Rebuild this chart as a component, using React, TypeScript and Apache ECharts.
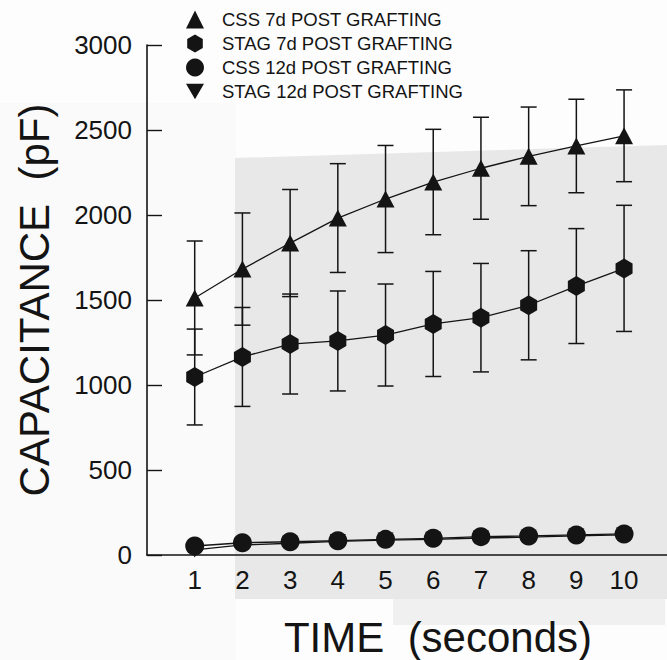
import React, { useEffect, useRef } from "react";
import * as echarts from "echarts";

const timeSec = [1, 2, 3, 4, 5, 6, 7, 8, 9, 10];
const css7d = [1512, 1682, 1835, 1982, 2094, 2194, 2275, 2345, 2406, 2466];
const css7dErr = [335, 330, 315, 320, 315, 310, 300, 290, 275, 270];
const stag7d = [1047, 1165, 1241, 1259, 1294, 1359, 1396, 1469, 1582, 1686];
const stag7dErr = [282, 291, 294, 294, 300, 309, 319, 321, 338, 371];
const css12d = [53, 72, 78, 84, 92, 98, 108, 112, 118, 124];
const stag12d = [30, 59, 69, 80, 88, 92, 100, 105, 112, 118];

const seriesNames = [
  "CSS 7d POST GRAFTING",
  "STAG 7d POST GRAFTING",
  "CSS 12d POST GRAFTING",
  "STAG 12d POST GRAFTING",
];
const yTicks = [0, 500, 1000, 1500, 2000, 2500, 3000];

const FONT = "'Liberation Sans', Arial, Helvetica, sans-serif";
const INK = "#141414";
const HEX = "path://M0,-10L8.66,-5L8.66,5L0,10L-8.66,5L-8.66,-5Z";
const DOWN = "path://M0,0L20,0L10,17Z";

function errorBars(name: string, means: number[], errs: number[]) {
  return {
    type: "custom",
    name: name + " error",
    z: 1,
    silent: true,
    encode: { x: 0, y: 1 },
    data: timeSec.map((t, i) => [t, means[i], errs[i]]),
    renderItem: (params: any, api: any) => {
      const x = api.value(0);
      const m = api.value(1);
      const e = api.value(2);
      const top = api.coord([x, m + e]);
      const bot = api.coord([x, m - e]);
      const hw = 8;
      const st = { stroke: INK, lineWidth: 1.5 };
      return {
        type: "group",
        children: [
          { type: "line", shape: { x1: top[0], y1: top[1], x2: bot[0], y2: bot[1] }, style: st },
          { type: "line", shape: { x1: top[0] - hw, y1: top[1], x2: top[0] + hw, y2: top[1] }, style: st },
          { type: "line", shape: { x1: bot[0] - hw, y1: bot[1], x2: bot[0] + hw, y2: bot[1] }, style: st },
        ],
      };
    },
  };
}

function lineSeries(name: string, values: number[], symbol: string, size: any, z: number) {
  return {
    type: "line",
    name,
    z,
    data: timeSec.map((t, i) => [t, values[i]]),
    symbol,
    symbolSize: size,
    showAllSymbol: true,
    lineStyle: { color: INK, width: 1.3 },
    itemStyle: { color: INK, borderWidth: 0 },
    emphasis: { disabled: true },
  };
}

export default function App() {
  const ref = useRef<HTMLDivElement>(null);
  useEffect(() => {
    if (!ref.current) return;
    const chart = echarts.init(ref.current, null, { renderer: "svg" });
    chart.setOption({
      animation: false,
      backgroundColor: "#fdfdfd",
      textStyle: { fontFamily: FONT },
      graphic: [
        { type: "rect", z: -10, silent: true, shape: { x: 0, y: 103, width: 236, height: 557 }, style: { fill: "#fafafa" } },
        {
          type: "polygon",
          z: -10,
          silent: true,
          shape: { points: [[235, 158], [667, 145], [667, 599], [235, 599]] },
          style: { fill: "#e8e8e8" },
        },
        { type: "rect", z: -10, silent: true, shape: { x: 393, y: 599, width: 272, height: 26 }, style: { fill: "#f0f0f0" } },
      ],
      legend: {
        orient: "vertical",
        left: 181,
        top: 5,
        itemWidth: 18,
        itemHeight: 18,
        itemGap: 5,
        selectedMode: false,
        textStyle: { fontSize: 18.5, color: INK, fontFamily: FONT, padding: [0, 0, 0, 13] },
        data: [
          { name: seriesNames[0], icon: "triangle" },
          { name: seriesNames[1], icon: HEX },
          { name: seriesNames[2], icon: "circle" },
          { name: seriesNames[3], icon: DOWN },
        ],
      },
      grid: { left: 147, right: 0, top: 45, bottom: 105, containLabel: false, outerBoundsMode: "none" },
      xAxis: {
        type: "value",
        min: 0,
        max: 10.9,
        interval: 1,
        name: "TIME  (seconds)",
        nameLocation: "middle",
        nameGap: 61,
        nameTextStyle: { fontSize: 42, lineHeight: 42, color: INK, fontFamily: FONT, padding: [0, 0, 0, 62] },
        axisLine: { show: true, onZero: false, lineStyle: { color: INK, width: 1.6 } },
        axisTick: { show: false },
        splitLine: { show: false },
        axisLabel: {
          fontSize: 26,
          color: INK,
          margin: 12,
          fontFamily: FONT,
          formatter: (v: number) => (Number.isInteger(v) && v >= 1 && v <= 10 ? String(v) : ""),
        },
      },
      yAxis: {
        type: "value",
        min: yTicks[0],
        max: yTicks[yTicks.length - 1],
        interval: 500,
        name: "CAPACITANCE  (pF)",
        nameLocation: "middle",
        nameRotate: 90,
        nameGap: 92,
        nameTextStyle: { fontSize: 42, color: INK, fontFamily: FONT },
        axisLine: { show: true, lineStyle: { color: INK, width: 1.6 } },
        axisTick: { show: true, inside: true, length: 15, lineStyle: { color: INK, width: 1.4 } },
        splitLine: { show: false },
        axisLabel: { fontSize: 26, color: INK, margin: 15, fontFamily: FONT, formatter: (v: number) => String(v) },
      },
      series: [
        errorBars(seriesNames[0], css7d, css7dErr),
        errorBars(seriesNames[1], stag7d, stag7dErr),
        lineSeries(seriesNames[3], stag12d, DOWN, [16, 15], 3),
        lineSeries(seriesNames[2], css12d, "circle", 19, 4),
        lineSeries(seriesNames[1], stag7d, HEX, [17, 20], 5),
        lineSeries(seriesNames[0], css7d, "triangle", [18, 17], 6),
      ],
    });
    return () => chart.dispose();
  }, []);
  return <div ref={ref} style={{ position: "fixed", left: 0, top: 0, width: 667, height: 660 }} />;
}
